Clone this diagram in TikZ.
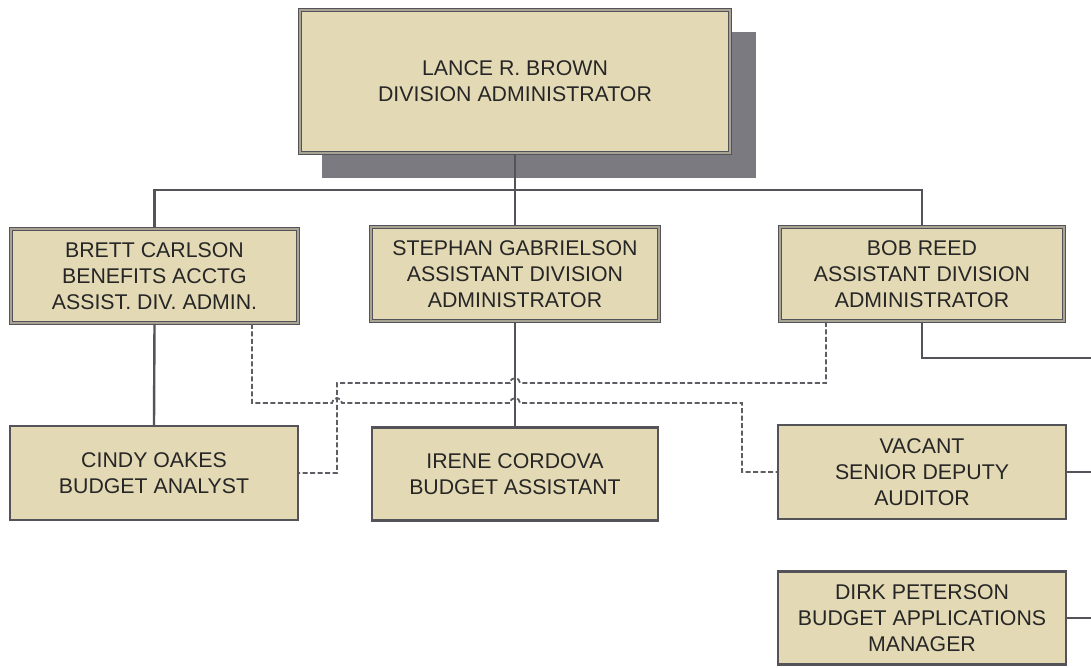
\documentclass[tikz,border=0pt]{standalone}
\usepackage{fontspec}
\setmainfont{Liberation Sans}
\usetikzlibrary{calc}
\definecolor{boxfill}{HTML}{E3D9B4}
\definecolor{boxline}{HTML}{54535A}
\definecolor{boxgap}{HTML}{A8A392}
\definecolor{shadowgray}{HTML}{7B7A80}
\definecolor{dashgray}{HTML}{5E5D63}
\definecolor{textgray}{HTML}{262626}

\begin{document}
\begin{tikzpicture}[x=1pt,y=-1pt,
    font=\fontsize{21.3}{26}\selectfont,text=textgray,
    dbox/.style={rectangle,fill=boxfill,draw=boxline,double=boxgap,double distance=1.8pt,line width=1.5pt,align=center,inner sep=0pt},
    sbox/.style={rectangle,fill=boxfill,draw=boxline,line width=2.4pt,align=center,inner sep=0pt},
    link/.style={draw=boxline,line width=2.4pt},
    dashline/.style={draw=dashgray,line width=1.8pt,dash pattern=on 5pt off 2.5pt}]
        \useasboundingbox (0,0) rectangle (1091,667);
        \fill[shadowgray] (322,32) rectangle (756,178);

        \node[dbox,minimum width=430pt,minimum height=143pt] (LB) at (515,81.5) {LANCE R. BROWN\\DIVISION ADMINISTRATOR};
        \node[dbox,minimum width=287pt,minimum height=94pt] (BC) at (154.5,276) {BRETT CARLSON\\BENEFITS ACCTG\\ASSIST. DIV. ADMIN.};
        \node[dbox,minimum width=288pt,minimum height=94pt] (SG) at (515,274) {STEPHAN GABRIELSON\\ASSISTANT DIVISION\\ADMINISTRATOR};
        \node[dbox,minimum width=284pt,minimum height=94pt] (BR) at (922,274) {BOB REED\\ASSISTANT DIVISION\\ADMINISTRATOR};

        \node[sbox,minimum width=288pt,minimum height=94pt] (CO) at (154,473) {CINDY OAKES\\BUDGET ANALYST};
        \node[sbox,minimum width=286pt,minimum height=93pt] (IC) at (515,474) {IRENE CORDOVA\\BUDGET ASSISTANT};
        \node[sbox,minimum width=288pt,minimum height=94pt] (VA) at (922,472) {VACANT\\SENIOR DEPUTY\\AUDITOR};
        \node[sbox,minimum width=288pt,minimum height=93pt] (DP) at (922,618) {DIRK PETERSON\\BUDGET APPLICATIONS\\MANAGER};

        \coordinate (bus) at (515,190);
        \coordinate (E1) at (1091,358);
        \coordinate (E2) at (1091,472);
        \coordinate (E3) at (1091,618);

        \draw[link] (LB.south) -- (bus);
        \draw[link] (BC.north) |- (bus) -| (BR.north);
        \draw[link] (bus) -- (SG.north);
        \draw[link] (BC.south) -- (CO.north);
        \draw[link] (SG.south) -- (IC.north);
        \draw[link] (BR.south) |- (E1);
        \draw[link] (VA.east) -- (E2);
        \draw[link] (DP.east) -- (E3);

        \draw[dashline] (826,0 |- BR.south) -- (826,383) -- (520,383)
            arc[start angle=0,end angle=-180,radius=5] -- (337,383) -- (337,0 |- CO.east) -- (CO.east);
        \draw[dashline] (252,0 |- BC.south) -- (252,403) -- (332,403)
            arc[start angle=180,end angle=360,radius=5] -- (510,403)
            arc[start angle=180,end angle=360,radius=5] -- (742,403) -- (742,0 |- VA.west) -- (VA.west);

    \end{tikzpicture}
\end{document}
